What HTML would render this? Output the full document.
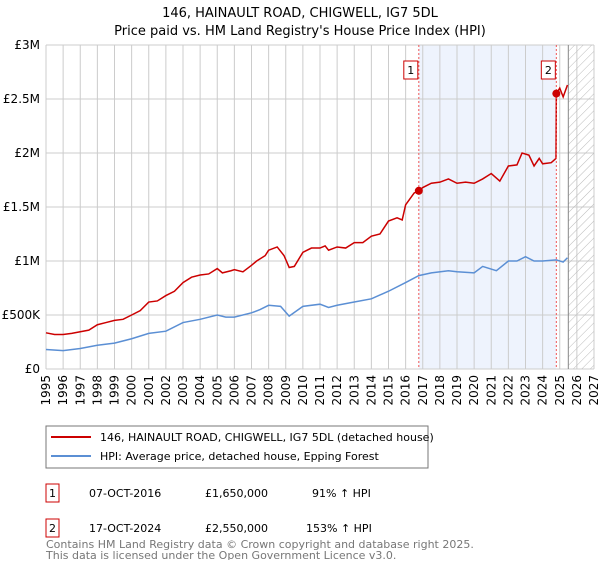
<!DOCTYPE html>
<html><head><meta charset="utf-8"><style>
body{margin:0;background:#fff;font-family:"Liberation Sans","DejaVu Sans",sans-serif;}
svg text{font-family:"DejaVu Sans","Liberation Sans",sans-serif;}
</style></head><body>
<svg id="c" width="600" height="560" viewBox="0 0 600 560" xmlns="http://www.w3.org/2000/svg">
<defs><pattern id="hatch" width="6" height="6" patternUnits="userSpaceOnUse" patternTransform="rotate(45)"><line x1="0" y1="0" x2="0" y2="6" stroke="#bbb" stroke-width="1"/></pattern></defs>
<text x="300" y="17" text-anchor="middle" font-size="13">146, HAINAULT ROAD, CHIGWELL, IG7 5DL</text>
<text x="300" y="35" text-anchor="middle" font-size="13">Price paid vs. HM Land Registry's House Price Index (HPI)</text>
<g id="plot"></g>
<g>
<rect x="46" y="426" width="382" height="42" fill="#fff" stroke="#777"/>
<line x1="51" y1="437" x2="91" y2="437" stroke="#cc0000" stroke-width="2"/>
<text x="100" y="441" font-size="11">146, HAINAULT ROAD, CHIGWELL, IG7 5DL (detached house)</text>
<line x1="51" y1="456" x2="91" y2="456" stroke="#5b8fd4" stroke-width="2"/>
<text x="100" y="460" font-size="11">HPI: Average price, detached house, Epping Forest</text>
</g>
<g font-size="11">
<rect x="46" y="484" width="13" height="18" fill="#fff" stroke="#cc0000"/><text x="52.5" y="497" text-anchor="middle">1</text>
<text x="89" y="497">07-OCT-2016</text><text x="205" y="497">£1,650,000</text><text x="312" y="497">91% ↑ HPI</text>
<rect x="46" y="519" width="13" height="18" fill="#fff" stroke="#cc0000"/><text x="52.5" y="532" text-anchor="middle">2</text>
<text x="89" y="532">17-OCT-2024</text><text x="205" y="532">£2,550,000</text><text x="306" y="532">153% ↑ HPI</text>
</g>
<text x="46" y="548" font-size="11" fill="#777">Contains HM Land Registry data © Crown copyright and database right 2025.</text>
<text x="46" y="559" font-size="11" fill="#777">This data is licensed under the Open Government Licence v3.0.</text>
</svg>
<script>
const yTicks=[0,500000,1000000,1500000,2000000,2500000,3000000];
const yTickLabels=["£0","£500K","£1M","£1.5M","£2M","£2.5M","£3M"];
const years=[1995,1996,1997,1998,1999,2000,2001,2002,2003,2004,2005,2006,2007,2008,2009,2010,2011,2012,2013,2014,2015,2016,2017,2018,2019,2020,2021,2022,2023,2024,2025,2026,2027];
const priceT=[1995,1995.5,1996,1996.5,1997,1997.5,1998,1998.5,1999,1999.5,2000,2000.5,2001,2001.5,2002,2002.5,2003,2003.5,2004,2004.5,2005,2005.3,2005.8,2006,2006.5,2007,2007.3,2007.8,2008,2008.5,2008.9,2009.2,2009.5,2010,2010.5,2011,2011.3,2011.5,2012,2012.5,2013,2013.5,2014,2014.5,2015,2015.5,2015.8,2016,2016.5,2016.77,2017,2017.5,2018,2018.5,2019,2019.5,2020,2020.5,2021,2021.5,2022,2022.5,2022.8,2023.2,2023.5,2023.8,2024,2024.5,2024.78,2024.8,2025,2025.2,2025.45];
const priceV=[335,320,320,330,345,360,410,430,450,460,500,540,620,630,680,720,800,850,870,880,930,890,910,920,900,960,1000,1050,1100,1130,1050,940,950,1080,1120,1120,1140,1100,1130,1120,1170,1170,1230,1250,1370,1400,1380,1520,1630,1650,1680,1720,1730,1760,1720,1730,1720,1760,1810,1740,1880,1890,2000,1980,1880,1950,1900,1910,1950,2550,2600,2520,2630];
const hpiT=[1995,1996,1997,1998,1999,2000,2001,2002,2003,2004,2005,2005.5,2006,2007,2007.5,2008,2008.7,2009.2,2010,2011,2011.5,2012,2013,2014,2015,2016,2016.77,2017.5,2018.5,2019,2020,2020.5,2021.3,2022,2022.5,2023,2023.5,2024,2024.8,2025.2,2025.45];
const hpiV=[180,170,190,220,240,280,330,350,430,460,500,480,480,520,550,590,580,490,580,600,570,590,620,650,720,800,865,890,910,900,890,950,910,1000,1000,1040,1000,1000,1010,990,1030];
const sales=[{t:2016.77,v:1650000,n:"1"},{t:2024.8,v:2550000,n:"2"}];
const X0=46,X1=594,Y0=369,Y1=45;
const x=t=>X0+(t-1995)/(2027-1995)*(X1-X0);
const y=v=>Y0-v/3000000*(Y0-Y1);
const NS="http://www.w3.org/2000/svg";
const g=document.getElementById('plot');
function mk(tag,a){const e=document.createElementNS(NS,tag);for(const k in a)e.setAttribute(k,a[k]);g.appendChild(e);return e;}
let e;
e=mk('rect',{x:x(2016.77),y:Y1,width:x(2024.8)-x(2016.77),height:Y0-Y1,fill:'#eef3fd'});


years.forEach(yr=>{e=mk('line',{x1:x(yr),x2:x(yr),y1:Y1,y2:Y0,stroke:'#ccc'});

});
yTicks.forEach((v,i)=>{e=mk('line',{x1:X0,x2:X1,y1:y(v),y2:y(v),stroke:'#ccc'});


e=mk('text',{x:X0-6,y:y(v)+4,'text-anchor':'end','font-size':12});e.textContent=yTickLabels[i];

});
e=mk('rect',{x:x(2025.5),y:Y1,width:X1-x(2025.5),height:Y0-Y1,fill:'url(#hatch)'});


e=mk('line',{x1:x(2025.5),x2:x(2025.5),y1:Y1,y2:Y0,stroke:'#888'});


years.forEach(yr=>{e=mk('text',{transform:`translate(${x(yr)+4},${Y0+6}) rotate(-90)`,'text-anchor':'end','font-size':12});e.textContent=yr;

});
e=mk('polyline',{points:hpiT.map((t,i)=>x(t)+','+y(hpiV[i]*1000)).join(' '),fill:'none',stroke:'#5b8fd4','stroke-width':1.5});


e=mk('polyline',{points:priceT.map((t,i)=>x(t)+','+y(priceV[i]*1000)).join(' '),fill:'none',stroke:'#cc0000','stroke-width':1.5});


sales.forEach(s=>{
e=mk('line',{x1:x(s.t),x2:x(s.t),y1:Y1,y2:Y0,stroke:'#e55','stroke-dasharray':'2,2'});


e=mk('circle',{cx:x(s.t),cy:y(s.v),r:4,fill:'#cc0000'});


e=mk('rect',{x:x(s.t)-15,y:61,width:14,height:18,fill:'#fff',stroke:'#cc0000'});


e=mk('text',{x:x(s.t)-8,y:74,'text-anchor':'middle','font-size':11});e.textContent=s.n;


});
</script>
</body></html>
